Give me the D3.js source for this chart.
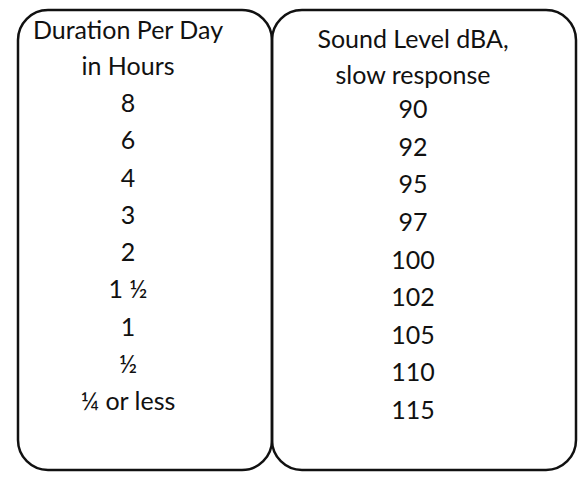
<!DOCTYPE html>
<html><head><meta charset="utf-8">
<script src="https://cdn.jsdelivr.net/npm/d3@7"></script>
<style>body{margin:0;background:#fff}text{font-family:Lato,"Open Sans",sans-serif;font-size:25px;fill:#111}</style>
</head><body><svg id="c" width="586" height="489"></svg>
<script>
var durationHeader = ["Duration Per Day", "in Hours"];
var durations = ["8", "6", "4", "3", "2", "1 \u00BD", "1", "\u00BD", "\u00BC or less"];
var soundHeader = ["Sound Level dBA,", "slow response"];
var levels = ["90", "92", "95", "97", "100", "102", "105", "110", "115"];

var svg = d3.select("#c");

// two rounded boxes
var boxes = [{x0: 18, x1: 272}, {x0: 272, x1: 576}];
svg.selectAll("rect.box").data(boxes).enter().append("rect")
  .attr("class", "box")
  .attr("x", function (d) { return d.x0; })
  .attr("y", 10)
  .attr("width", function (d) { return d.x1 - d.x0; })
  .attr("height", 460)
  .attr("rx", 30)
  .attr("fill", "none")
  .attr("stroke", "#111")
  .attr("stroke-width", 2.5);

function column(cx, header, headerY, values, y0, y1) {
  var g = svg.append("g");
  g.selectAll("text.h").data(header).enter().append("text")
    .attr("x", cx)
    .attr("y", function (d, i) { return headerY + i * 36; })
    .attr("text-anchor", "middle")
    .attr("dominant-baseline", "central")
    .text(function (d) { return d; });
  var y = d3.scalePoint().domain(d3.range(values.length)).range([y0, y1]);
  g.selectAll("text.v").data(values).enter().append("text")
    .attr("x", cx)
    .attr("y", function (d, i) { return y(i); })
    .attr("text-anchor", "middle")
    .attr("dominant-baseline", "central")
    .text(function (d) { return d; });
}

column(128, durationHeader, 29, durations, 102, 400);
column(413, soundHeader, 38, levels, 108, 409);
</script></body></html>
